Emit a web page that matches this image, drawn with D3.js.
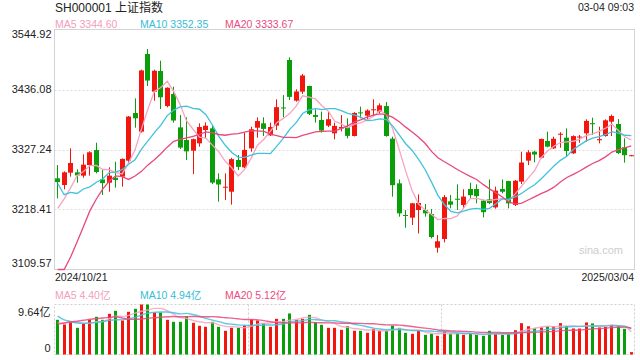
<!DOCTYPE html>
<html><head><meta charset="utf-8">
<script src="https://cdn.jsdelivr.net/npm/d3@7"></script>
<style>
html,body{margin:0;padding:0;background:#fff;}
svg{display:block;font-family:"Liberation Sans",Arial,"Noto Sans CJK SC",sans-serif;}
</style></head><body>
<svg id="c" width="640" height="360"></svg>
<script>
const dates = ["2024/10/21","2024/10/22","2024/10/23","2024/10/24","2024/10/25","2024/10/28","2024/10/29","2024/10/30","2024/10/31","2024/11/01",
"2024/11/04","2024/11/05","2024/11/06","2024/11/07","2024/11/08","2024/11/11","2024/11/12","2024/11/13","2024/11/14","2024/11/15",
"2024/11/18","2024/11/19","2024/11/20","2024/11/21","2024/11/22","2024/11/25","2024/11/26","2024/11/27","2024/11/28","2024/11/29",
"2024/12/02","2024/12/03","2024/12/04","2024/12/05","2024/12/06","2024/12/09","2024/12/10","2024/12/11","2024/12/12","2024/12/13",
"2024/12/16","2024/12/17","2024/12/18","2024/12/19","2024/12/20","2024/12/23","2024/12/24","2024/12/25","2024/12/26","2024/12/27",
"2024/12/30","2024/12/31","2025/01/02","2025/01/03","2025/01/06","2025/01/07","2025/01/08","2025/01/09","2025/01/10","2025/01/13",
"2025/01/14","2025/01/15","2025/01/16","2025/01/17","2025/01/20","2025/01/21","2025/01/22","2025/01/23","2025/01/24","2025/01/27",
"2025/02/05","2025/02/06","2025/02/07","2025/02/10","2025/02/11","2025/02/12","2025/02/13","2025/02/14","2025/02/17","2025/02/18",
"2025/02/19","2025/02/20","2025/02/21","2025/02/24","2025/02/25","2025/02/26","2025/02/27","2025/02/28","2025/03/03","2025/03/04"];

const open = [3274.9,3262.8,3285.2,3285.8,3279.8,3299.0,3326.3,3273.0,3267.0,3276.0,
3278.0,3307.0,3393.4,3359.6,3500.5,3432.1,3469.6,3406.0,3428.0,3367.4,
3344.5,3325.1,3338.4,3362.6,3365.6,3273.1,3258.5,3250.7,3308.2,3294.9,
3329.3,3366.8,3374.7,3352.9,3370.5,3403.5,3489.6,3415.8,3432.1,3442.4,
3389.8,3380.8,3370.5,3356.6,3365.5,3367.4,3351.7,3394.5,3388.6,3399.0,
3395.9,3406.0,3346.9,3265.9,3208.5,3203.6,3217.5,3217.5,3210.2,3149.1,
3164.9,3233.2,3238.0,3226.6,3255.6,3255.6,3234.4,3236.8,3222.3,3255.6,
3270.0,3226.6,3268.9,3307.0,3323.3,3312.4,3342.7,3329.3,3354.0,3348.7,
3320.3,3349.5,3356.6,3375.0,3344.0,3351.7,3377.7,3373.5,3331.2,3315.5];

const high = [3299.1,3287.5,3329.3,3291.3,3318.5,3324.0,3339.6,3290.0,3295.0,3305.0,
3311.0,3388.0,3420.0,3472.0,3509.5,3472.0,3488.4,3440.0,3441.2,3389.8,
3385.6,3347.0,3374.7,3376.5,3371.7,3284.0,3284.0,3312.0,3317.3,3357.8,
3368.6,3385.6,3385.6,3375.9,3418.2,3426.0,3494.4,3436.4,3464.2,3443.0,
3400.0,3395.9,3395.9,3376.0,3389.8,3383.8,3395.0,3405.0,3400.1,3418.2,
3411.0,3413.4,3350.5,3273.0,3217.5,3230.5,3245.9,3228.4,3219.3,3172.1,
3244.7,3244.7,3264.0,3255.0,3267.0,3264.0,3236.0,3273.0,3260.0,3273.0,
3270.5,3272.0,3323.3,3326.0,3325.0,3347.0,3359.6,3350.5,3358.6,3365.6,
3353.0,3353.5,3382.0,3385.0,3368.6,3382.0,3390.5,3382.5,3347.5,3317.5];

const low = [3238.6,3255.0,3278.0,3267.0,3276.0,3279.8,3284.0,3244.7,3250.7,3258.0,
3259.8,3301.0,3366.8,3357.8,3442.4,3415.8,3400.7,3403.7,3375.9,3328.1,
3308.2,3282.8,3332.4,3347.5,3264.6,3232.6,3235.6,3227.2,3290.0,3293.7,
3323.3,3348.7,3351.7,3351.7,3362.6,3385.6,3417.0,3414.0,3428.0,3389.8,
3376.0,3357.8,3368.0,3345.7,3360.0,3347.5,3351.0,3383.8,3380.8,3388.0,
3392.8,3350.5,3241.7,3205.4,3185.4,3190.3,3175.0,3205.4,3166.0,3140.1,
3158.8,3220.5,3217.5,3220.5,3237.4,3229.6,3204.2,3228.0,3220.0,3247.7,
3220.5,3224.7,3264.6,3299.0,3304.0,3311.2,3331.2,3328.1,3330.5,3314.2,
3319.0,3339.6,3341.5,3353.5,3338.4,3350.5,3351.7,3319.0,3303.4,3315.0];

const close = [3268.11,3285.87,3302.80,3280.26,3299.70,3322.20,3286.41,3266.24,3279.82,3272.01,
3310.21,3386.99,3383.81,3470.66,3452.30,3470.07,3421.97,3439.28,3379.84,3330.73,
3323.85,3346.01,3367.99,3370.40,3267.19,3263.76,3259.76,3309.78,3295.70,3326.46,
3363.98,3378.81,3364.65,3368.07,3404.08,3402.53,3422.66,3432.49,3461.50,3391.88,
3386.33,3361.49,3382.21,3370.03,3368.07,3351.97,3393.53,3393.35,3398.08,3400.14,
3407.33,3351.76,3262.56,3211.43,3206.92,3229.64,3230.17,3211.39,3168.52,3160.76,
3240.94,3227.12,3236.03,3241.82,3244.38,3242.62,3213.62,3230.16,3252.63,3250.60,
3229.49,3270.66,3303.67,3322.17,3318.06,3346.39,3332.48,3346.72,3355.83,3324.49,
3351.54,3350.78,3379.11,3373.03,3346.04,3380.21,3388.06,3320.90,3316.93,3316.90];

const volume = [6.69,5.79,6.43,5.14,5.98,6.69,7.27,6.69,7.84,8.42,
6.56,8.23,8.81,9.64,9.64,8.10,8.10,6.69,6.30,6.30,
7.39,6.11,5.53,5.34,6.30,5.34,4.57,5.14,5.14,5.59,
6.75,6.56,6.04,5.34,6.88,6.88,7.91,6.69,6.88,7.65,
6.24,5.72,5.14,5.14,4.76,5.47,4.57,4.57,4.18,4.95,
4.57,4.57,5.53,5.14,4.18,3.99,4.57,3.79,3.99,3.60,
4.50,4.05,4.05,3.79,4.05,3.79,3.60,4.57,3.99,3.79,
4.10,4.69,6.04,5.45,5.07,5.25,5.45,5.45,6.04,5.45,
5.02,5.01,6.18,5.99,5.20,5.34,5.72,5.53,4.95,0.46];

// closes and volumes of the 19 sessions before the first visible day (for moving averages)
const priorCloses = [2704.09,2717.28,2736.02,2736.81,2748.92,2863.13,2896.31,2996.39,3087.53,3336.50,
3489.78,3258.86,3301.93,3217.74,3284.32,3201.29,3202.95,3169.38,3261.56];
const priorVolumes = [2.2,2.3,2.4,2.6,2.7,4.4,4.6,5.5,6.2,11.1,13.0,9.5,8.0,6.5,6.5,6.0,5.2,5.3,7.3];

const priceTicks = [3109.57,3218.41,3327.24,3436.08,3544.92];
const volumeTicks = [0,9.64];
const maPeriods = [5,10,20];
const priceMaLabels = ["MA5 3344.60","MA10 3352.35","MA20 3333.67"];
const volumeMaLabels = ["MA5 4.40亿","MA10 4.94亿","MA20 5.12亿"];
const titleText = "SH000001 上证指数";
const timeText = "03-04 09:03";

// ---------- layout / style ----------
const L = 54.5, R = 634.5, T = 29.5, B = 269.5;
const VT = 304.5, VB = 354.5;
const RED = "#f1170f", GREEN = "#0a9e0a";
const maColors = ["#f8a3c2","#3fc2dc","#e9487c"];
const labelColors = ["#f49dbd","#36bcd8","#ec4a7e"];

const svg = d3.select("#c");
const idx = d3.range(close.length);
const x = d3.scaleBand().domain(idx).range([L, R]).padding(0);
const cx = i => x(i) + x.bandwidth() / 2;
const y = d3.scaleLinear().domain([priceTicks[0], priceTicks[priceTicks.length-1]]).range([B, T]);
const yc = y.copy().clamp(true);
const yv = d3.scaleLinear().domain([0, volumeTicks[1]]).range([VB, VT]);
const yvc = yv.copy().clamp(true);

function movingAvg(series, prior, n) {
  const all = prior.concat(series);
  return series.map((_, i) => {
    const end = i + prior.length;
    return d3.mean(all.slice(end - n + 1, end + 1));
  });
}

// ---------- main panel ----------
svg.append("g").selectAll("line").data(priceTicks.slice(1, -1)).join("line")
  .attr("x1", L).attr("x2", R).attr("y1", d => Math.round(y(d)) + 0.5).attr("y2", d => Math.round(y(d)) + 0.5)
  .attr("stroke", "#dcdcdc").attr("stroke-dasharray", "2,2");

svg.append("rect").attr("x", L).attr("y", T).attr("width", R - L).attr("height", B - T)
  .attr("fill", "none").attr("stroke", "#d4d4d4");

svg.append("text").attr("x", 623).attr("y", 254).attr("text-anchor", "end")
  .attr("font-size", 11).attr("fill", "#cdcdcd").text("sina.com");

const isUp = i => close[i] >= open[i];
const cg = svg.append("g");
cg.selectAll("line").data(idx).join("line")
  .attr("x1", i => Math.round(cx(i) - 2.5) + 2.5).attr("x2", i => Math.round(cx(i) - 2.5) + 2.5)
  .attr("y1", i => y(high[i])).attr("y2", i => y(low[i]))
  .attr("stroke", i => isUp(i) ? RED : GREEN).attr("stroke-width", 1);
cg.selectAll("rect").data(idx).join("rect")
  .attr("x", i => Math.round(cx(i) - 2.5)).attr("width", 5)
  .attr("y", i => Math.min(y(open[i]), y(close[i])))
  .attr("height", i => Math.max(1, Math.abs(y(open[i]) - y(close[i]))))
  .attr("fill", i => isUp(i) ? RED : GREEN);

maPeriods.forEach((n, k) => {
  const m = movingAvg(close, priorCloses, n);
  svg.append("path").datum(m)
    .attr("d", d3.line().x((d, i) => cx(i)).y(d => yc(d)))
    .attr("fill", "none").attr("stroke", maColors[k]).attr("stroke-width", 1.3);
});

// y labels
svg.append("g").selectAll("text").data(priceTicks).join("text")
  .attr("x", 51.5).attr("text-anchor", "end").attr("font-size", 11).attr("fill", "#222")
  .attr("y", (d, i) => i === 0 ? y(d) - 2.5 : (i === priceTicks.length - 1 ? y(d) + 8.8 : y(d) + 3.8))
  .text(d => d.toFixed(2));

// header
svg.append("text").attr("x", 55).attr("y", 12).attr("font-size", 12).attr("fill", "#222").text(titleText);
svg.append("text").attr("x", 634).attr("y", 11).attr("font-size", 10.5).attr("fill", "#222")
  .attr("text-anchor", "end").text(timeText);
const labelX = [55, 140, 225];
priceMaLabels.forEach((t, k) => svg.append("text").attr("x", labelX[k]).attr("y", 28)
  .attr("font-size", 10.5).attr("fill", labelColors[k]).text(t));

// dates
svg.append("text").attr("x", 55).attr("y", 281).attr("font-size", 10.5).attr("fill", "#222").text(dates[0]);
svg.append("text").attr("x", 634).attr("y", 281).attr("font-size", 10.5).attr("fill", "#222")
  .attr("text-anchor", "end").text(dates[dates.length - 1]);

// ---------- volume panel ----------
volumeMaLabels.forEach((t, k) => svg.append("text").attr("x", labelX[k]).attr("y", 299)
  .attr("font-size", 10.5).attr("fill", labelColors[k]).text(t));

svg.append("rect").attr("x", L).attr("y", VT).attr("width", R - L).attr("height", VB - VT)
  .attr("fill", "none").attr("stroke", "#cfcfcf").attr("stroke-dasharray", "2,2");
svg.append("g").selectAll("line").data([1, 2]).join("line")
  .attr("x1", d => Math.round(L + (R - L) * d / 3) + 0.5).attr("x2", d => Math.round(L + (R - L) * d / 3) + 0.5)
  .attr("y1", VT).attr("y2", VB).attr("stroke", "#cfcfcf").attr("stroke-dasharray", "2,2");

svg.append("g").selectAll("rect").data(idx).join("rect")
  .attr("x", i => Math.round(cx(i) - 1.5)).attr("width", 3)
  .attr("y", i => yv(volume[i])).attr("height", i => VB - yv(volume[i]))
  .attr("fill", i => isUp(i) ? RED : GREEN);

maPeriods.forEach((n, k) => {
  const m = movingAvg(volume, priorVolumes, n);
  svg.append("path").datum(m)
    .attr("d", d3.line().x((d, i) => cx(i)).y(d => yvc(d)).curve(d3.curveMonotoneX))
    .attr("fill", "none").attr("stroke", maColors[k]).attr("stroke-width", 1.4).attr("opacity", 0.85);
});

svg.append("text").attr("x", 50.5).attr("y", 315.5).attr("text-anchor", "end")
  .attr("font-size", 11).attr("fill", "#222").text(volumeTicks[1].toFixed(2) + "亿");
svg.append("text").attr("x", 50.5).attr("y", 352).attr("text-anchor", "end")
  .attr("font-size", 11).attr("fill", "#222").text(String(volumeTicks[0]));
</script>
</body></html>
